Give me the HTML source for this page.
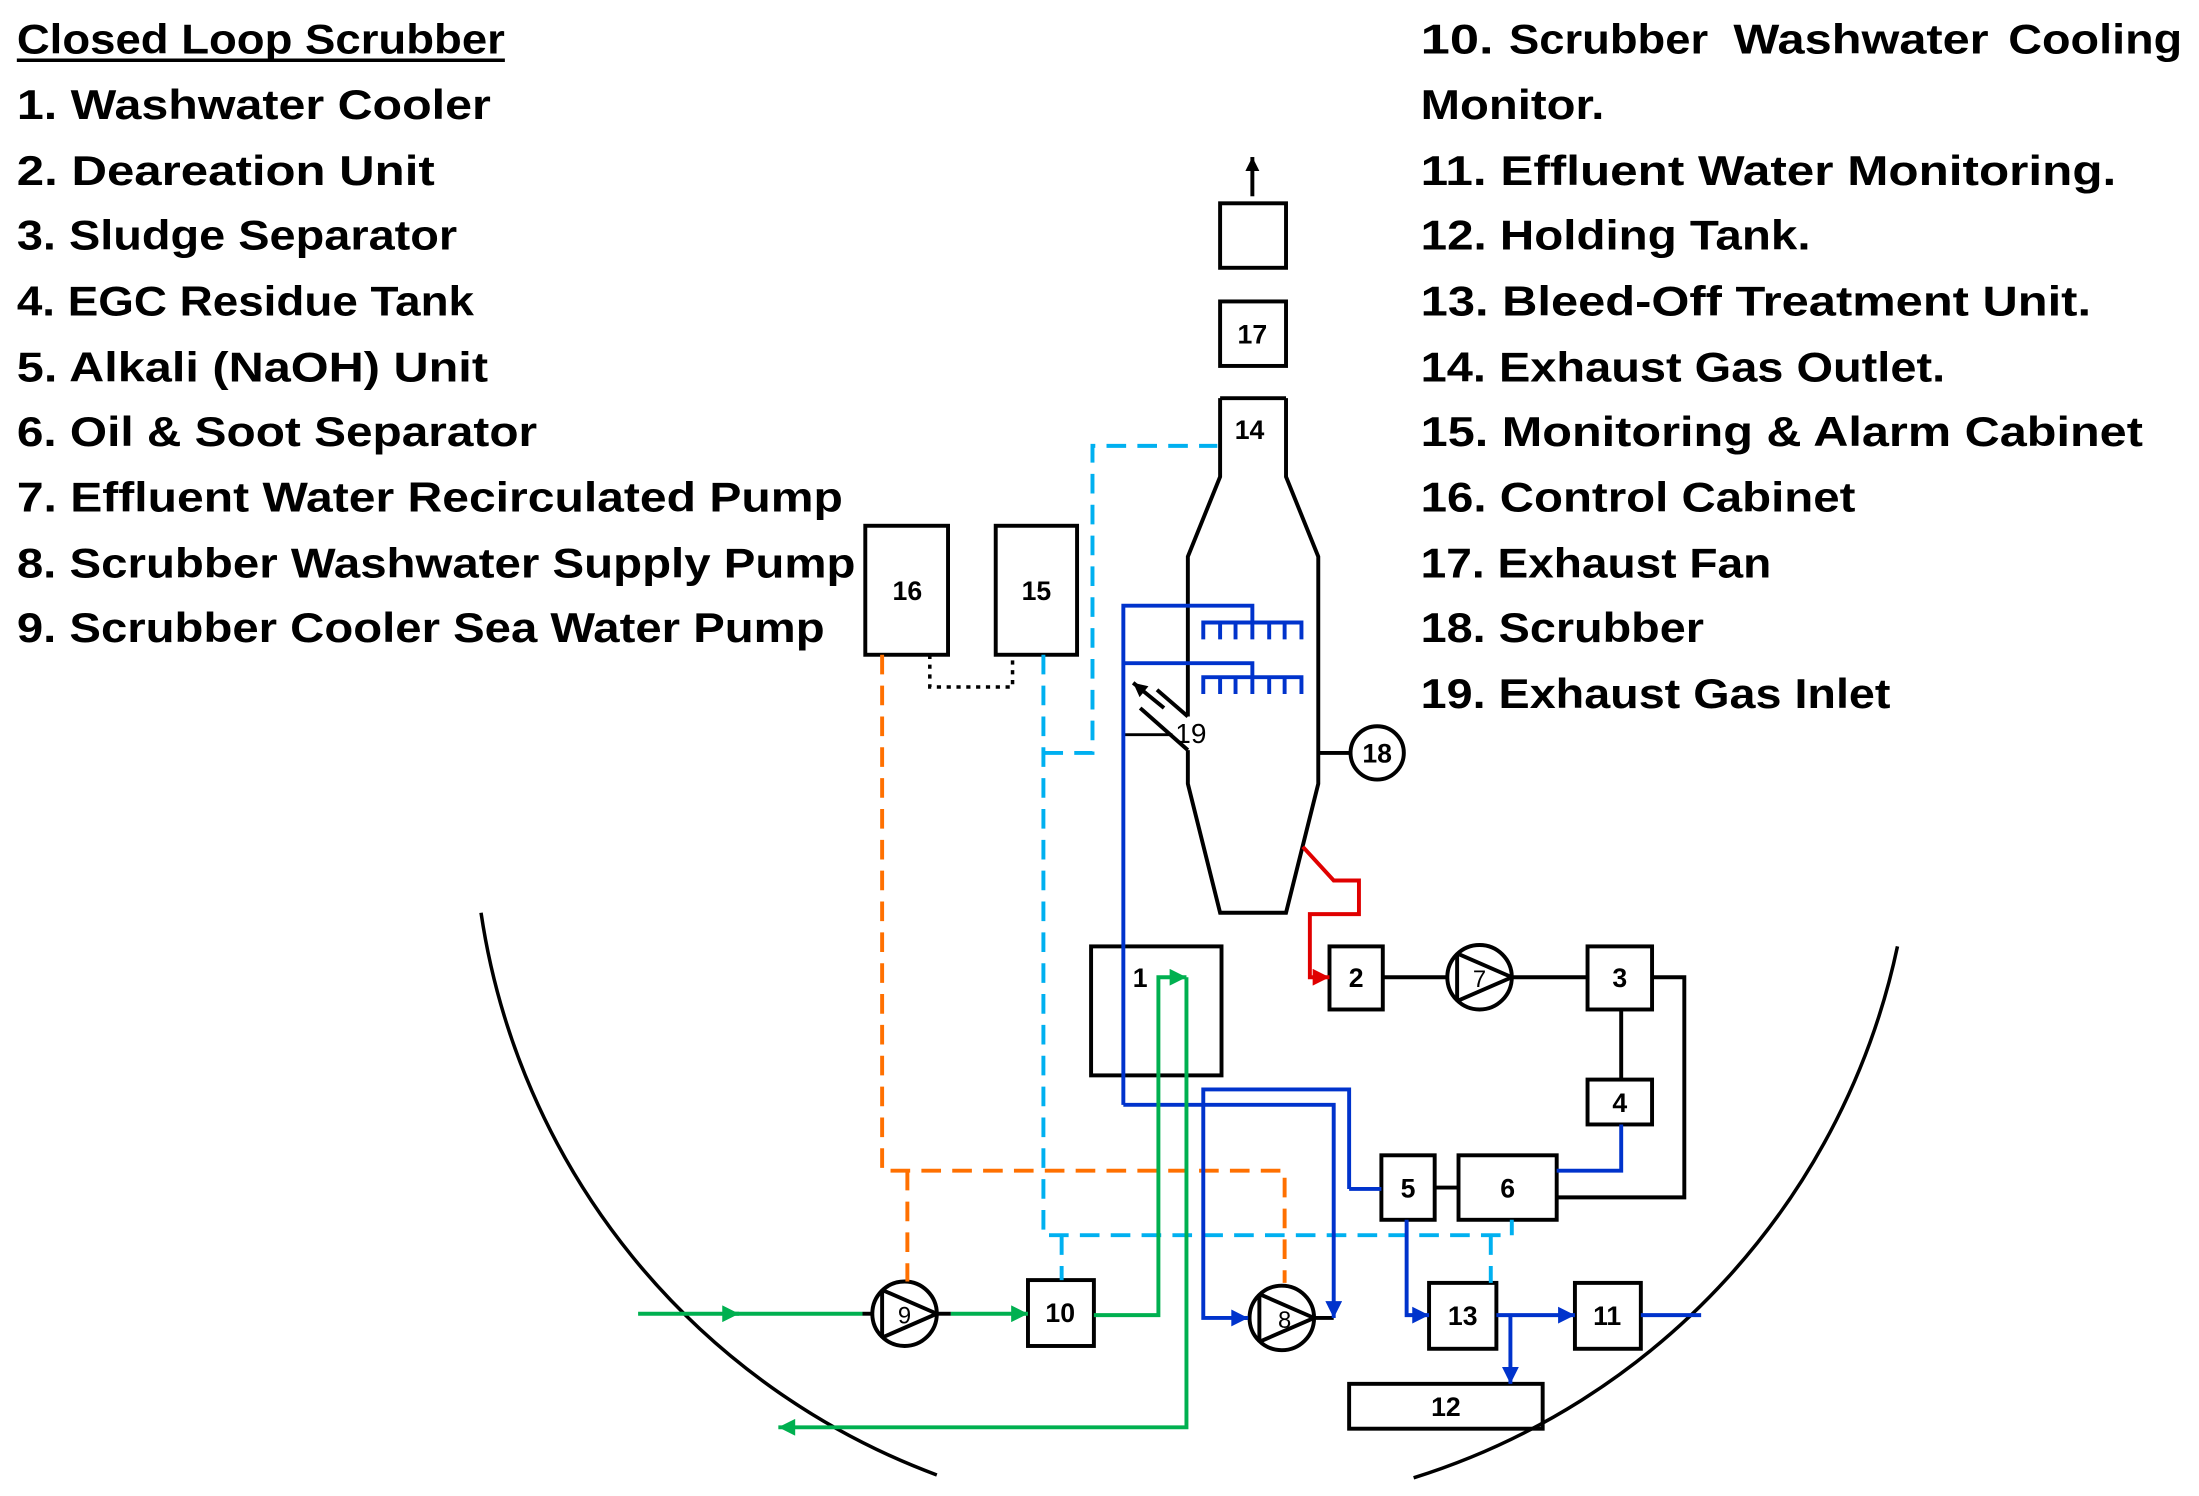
<!DOCTYPE html>
<html><head><meta charset="utf-8"><style>
html,body{margin:0;padding:0;background:#fff;}
svg{display:block;}
.t{font-family:"Liberation Sans",sans-serif;font-weight:bold;font-size:30px;fill:#000;}
.b{font-family:"Liberation Sans",sans-serif;font-weight:bold;font-size:19px;fill:#000;text-anchor:middle;}
</style></head><body>
<svg width="2199" height="1496" viewBox="0 0 1568 1067" preserveAspectRatio="none" xmlns="http://www.w3.org/2000/svg">
<defs>
<marker id="ak" viewBox="0 0 10 10" refX="10" refY="5" markerWidth="12" markerHeight="10" markerUnits="userSpaceOnUse" orient="auto"><path d="M0,0L10,5L0,10z" fill="#000"/></marker>
<marker id="ag" viewBox="0 0 10 10" refX="10" refY="5" markerWidth="16" markerHeight="12" markerUnits="userSpaceOnUse" orient="auto"><path d="M0,0L10,5L0,10z" fill="#00b050"/></marker>
<marker id="ab" viewBox="0 0 10 10" refX="10" refY="5" markerWidth="16" markerHeight="12" markerUnits="userSpaceOnUse" orient="auto"><path d="M0,0L10,5L0,10z" fill="#0033cc"/></marker>
<marker id="ar" viewBox="0 0 10 10" refX="10" refY="5" markerWidth="16" markerHeight="12" markerUnits="userSpaceOnUse" orient="auto"><path d="M0,0L10,5L0,10z" fill="#e00000"/></marker>
</defs>

<text class="t" x="12" y="38" textLength="348" lengthAdjust="spacingAndGlyphs">Closed Loop Scrubber</text>
<line x1="12" y1="43" x2="360" y2="43" stroke="#000" stroke-width="2.5"/>
<text class="t" x="12" y="85" textLength="338" lengthAdjust="spacingAndGlyphs">1. Washwater Cooler</text>
<text class="t" x="12" y="132" textLength="298" lengthAdjust="spacingAndGlyphs">2. Deareation Unit</text>
<text class="t" x="12" y="178" textLength="314" lengthAdjust="spacingAndGlyphs">3. Sludge Separator</text>
<text class="t" x="12" y="225" textLength="326" lengthAdjust="spacingAndGlyphs">4. EGC Residue Tank</text>
<text class="t" x="12" y="272" textLength="336" lengthAdjust="spacingAndGlyphs">5. Alkali (NaOH) Unit</text>
<text class="t" x="12" y="318" textLength="371" lengthAdjust="spacingAndGlyphs">6. Oil &amp; Soot Separator</text>
<text class="t" x="12" y="365" textLength="589" lengthAdjust="spacingAndGlyphs">7. Effluent Water Recirculated Pump</text>
<text class="t" x="12" y="412" textLength="598" lengthAdjust="spacingAndGlyphs">8. Scrubber Washwater Supply Pump</text>
<text class="t" x="12" y="458" textLength="576" lengthAdjust="spacingAndGlyphs">9. Scrubber Cooler Sea Water Pump</text>

<text class="t" x="1013" y="38" textLength="52" lengthAdjust="spacingAndGlyphs">10.</text>
<text class="t" x="1076" y="38" textLength="142" lengthAdjust="spacingAndGlyphs">Scrubber</text>
<text class="t" x="1236" y="38" textLength="182" lengthAdjust="spacingAndGlyphs">Washwater</text>
<text class="t" x="1432" y="38" textLength="124" lengthAdjust="spacingAndGlyphs">Cooling</text>
<text class="t" x="1013" y="85" textLength="131" lengthAdjust="spacingAndGlyphs">Monitor.</text>
<text class="t" x="1013" y="132" textLength="496" lengthAdjust="spacingAndGlyphs">11. Effluent Water Monitoring.</text>
<text class="t" x="1013" y="178" textLength="278" lengthAdjust="spacingAndGlyphs">12. Holding Tank.</text>
<text class="t" x="1013" y="225" textLength="478" lengthAdjust="spacingAndGlyphs">13. Bleed-Off Treatment Unit.</text>
<text class="t" x="1013" y="272" textLength="374" lengthAdjust="spacingAndGlyphs">14. Exhaust Gas Outlet.</text>
<text class="t" x="1013" y="318" textLength="515" lengthAdjust="spacingAndGlyphs">15. Monitoring &amp; Alarm Cabinet</text>
<text class="t" x="1013" y="365" textLength="310" lengthAdjust="spacingAndGlyphs">16. Control Cabinet</text>
<text class="t" x="1013" y="412" textLength="250" lengthAdjust="spacingAndGlyphs">17. Exhaust Fan</text>
<text class="t" x="1013" y="458" textLength="202" lengthAdjust="spacingAndGlyphs">18. Scrubber</text>
<text class="t" x="1013" y="505" textLength="335" lengthAdjust="spacingAndGlyphs">19. Exhaust Gas Inlet</text>

<path d="M343,651 A507,507 0 0 0 668,1052" fill="none" stroke="#000" stroke-width="2.5"/>
<path d="M1008,1054 A507,507 0 0 0 1353,675" fill="none" stroke="#000" stroke-width="2.5"/>

<g fill="none" stroke="#000" stroke-width="2.8">
<line x1="893" y1="140" x2="893" y2="112" marker-end="url(#ak)"/>
<rect x="870" y="145" width="47" height="46" fill="#fff"/>
<rect x="870" y="215" width="47" height="46" fill="#fff"/>
<line x1="870" y1="284" x2="917" y2="284"/>
<path d="M870,284 L870,340 L847,397 L847,511"/>
<path d="M847,535 L847,559 L870,651 L917,651 L940,559 L940,397 L917,340 L917,284"/>
<line x1="825" y1="492" x2="847" y2="511"/>
<line x1="813" y1="505" x2="847" y2="535"/>
<line x1="830" y1="505" x2="808" y2="487" marker-end="url(#ak)"/>
<line x1="801" y1="524" x2="836" y2="524" stroke-width="2"/>
<line x1="940" y1="537" x2="963" y2="537"/>
<circle cx="982" cy="537" r="19" fill="#fff"/>
<rect x="617" y="375" width="59" height="92" fill="#fff"/>
<rect x="710" y="375" width="58" height="92" fill="#fff"/>
<rect x="778" y="675" width="93" height="92"/>
<rect x="948" y="675" width="38" height="45"/>
<rect x="1132" y="675" width="46" height="45"/>
<rect x="1132" y="770" width="46" height="32"/>
<rect x="985" y="824" width="38" height="46"/>
<rect x="1040" y="824" width="70" height="46"/>
<rect x="733" y="913" width="47" height="47"/>
<rect x="1019" y="915" width="48" height="47"/>
<rect x="1123" y="915" width="47" height="47"/>
<rect x="962" y="987" width="138" height="32"/>
<line x1="986" y1="697" x2="1032" y2="697"/>
<line x1="1078" y1="697" x2="1132" y2="697"/>
<line x1="1156" y1="720" x2="1156" y2="770"/>
<path d="M1178,697 H1201 V854 H1110"/>
<line x1="1023" y1="847" x2="1040" y2="847"/>
<circle cx="1055" cy="697" r="23"/>
<path d="M1039,680 L1039,714 M1039,680 L1078,697 L1039,714"/>
<circle cx="645" cy="937" r="23"/>
<path d="M629,920 L629,954 M629,920 L668,937 L629,954"/>
<circle cx="914" cy="940" r="23"/>
<path d="M898,923 L898,957 M898,923 L937,940 L898,957"/>
<line x1="615" y1="937" x2="622" y2="937"/>
<line x1="668" y1="937" x2="678" y2="937"/>
<line x1="885" y1="940" x2="891" y2="940"/>
<line x1="937" y1="940" x2="951" y2="940"/>
</g>

<path d="M663,467 V490 H722 V467" fill="none" stroke="#000" stroke-width="2.5" stroke-dasharray="3,4"/>

<g fill="none" stroke="#ff7000" stroke-width="2.8" stroke-dasharray="14,8">
<path d="M629,467 V835 H916 V915"/>
<path d="M647,835 V914"/>
</g>

<g fill="none" stroke="#00b0f0" stroke-width="2.8" stroke-dasharray="14,8">
<path d="M744,467 V881 H1078 V870"/>
<path d="M757,881 V913"/>
<path d="M1063,881 V915"/>
<path d="M744,537 H779 V318 H868"/>
</g>

<g fill="none" stroke="#0033cc" stroke-width="2.8">
<path d="M801,788 V432 H893 V444"/>
<path d="M801,473 H893 V483"/>
<path d="M858,456 V444 H928 V456 M870,444 V456 M881,444 V456 M893,444 V456 M905,444 V456 M916,444 V456"/>
<path d="M858,495 V483 H928 V495 M870,483 V495 M881,483 V495 M893,483 V495 M905,483 V495 M916,483 V495"/>
<path d="M801,788 H951 V940" marker-end="url(#ab)"/>
<path d="M962,848 V777 H858 V940 H890" marker-end="url(#ab)"/>
<path d="M985,848 H962"/>
<path d="M1156,802 V835 H1110"/>
<path d="M1003,870 V938 H1019" marker-end="url(#ab)"/>
<path d="M1067,938 H1123" marker-end="url(#ab)"/>
<path d="M1077,938 V987" marker-end="url(#ab)"/>
<path d="M1170,938 H1213"/>
</g>

<g fill="none" stroke="#00b050" stroke-width="2.8">
<path d="M455,937 H527" marker-end="url(#ag)"/>
<path d="M520,937 H615"/>
<path d="M678,937 H733" marker-end="url(#ag)"/>
<path d="M780,938 H826 V697 H846" marker-end="url(#ag)"/>
<path d="M846,697 V1018 H555" marker-end="url(#ag)"/>
</g>

<path d="M929,604 L951,628 H969 V652 H934 V697 H948" fill="none" stroke="#e00000" stroke-width="2.8" marker-end="url(#ar)"/>

<text class="b" x="893" y="245">17</text>
<text class="b" x="891" y="313">14</text>
<text class="b" x="647" y="428">16</text>
<text class="b" x="739" y="428">15</text>
<text class="b" x="982" y="544">18</text>
<text x="838" y="530" style="font-family:'Liberation Sans',sans-serif;font-size:20px">19</text>
<text class="b" x="813" y="704">1</text>
<text class="b" x="967" y="704">2</text>
<text x="1055" y="704" style="font-family:'Liberation Sans',sans-serif;font-size:17px;text-anchor:middle">7</text>
<text class="b" x="1155" y="704">3</text>
<text class="b" x="1155" y="793">4</text>
<text class="b" x="1004" y="854">5</text>
<text class="b" x="1075" y="854">6</text>
<text x="645" y="944" style="font-family:'Liberation Sans',sans-serif;font-size:17px;text-anchor:middle">9</text>
<text class="b" x="756" y="943">10</text>
<text x="916" y="947" style="font-family:'Liberation Sans',sans-serif;font-size:17px;text-anchor:middle">8</text>
<text class="b" x="1043" y="945">13</text>
<text class="b" x="1146" y="945">11</text>
<text class="b" x="1031" y="1010">12</text>
</svg>
</body></html>
